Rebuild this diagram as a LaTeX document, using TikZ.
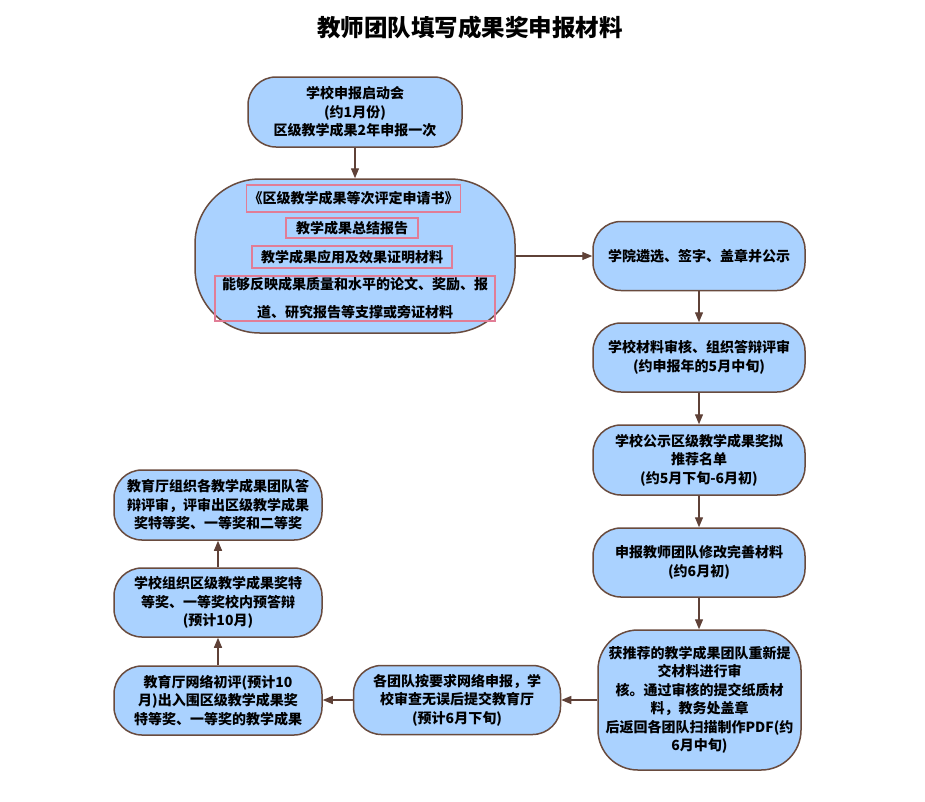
\documentclass[tikz,border=0pt]{standalone}
\usepackage{fontspec}
\setmainfont{Noto Sans CJK SC}
\usetikzlibrary{arrows.meta}
\definecolor{boxfill}{RGB}{170,210,255}
\definecolor{boxline}{RGB}{105,75,62}
\definecolor{arrowc}{RGB}{95,65,55}
\definecolor{pinkline}{RGB}{225,125,150}
\begin{document}
\begin{tikzpicture}[x=1pt,y=-1pt,
  flowbox/.style={draw=boxline, line width=1.5pt, fill=boxfill, rounded corners=28pt,
    minimum width=212pt, minimum height=70pt, align=center, inner sep=0pt,
    font=\fontsize{14}{18.5}\selectfont\bfseries},
  pinkbox/.style={draw=pinkline, line width=1.2pt, inner sep=0pt, align=center,
    font=\fontsize{14}{28}\selectfont\bfseries},
  conn/.style={draw=arrowc, line width=1.3pt, -{Triangle[length=10pt,width=8pt]}},
  titlestyle/.style={font=\fontsize{23.5}{26}\selectfont\bfseries, inner sep=0pt}
]
\fill[white] (0,0) rectangle (925,801);
\useasboundingbox (0,0) rectangle (925,801);

\node[titlestyle] (title) at (470,28) {教师团队填写成果奖申报材料};

\node[flowbox, minimum width=214pt, minimum height=70pt] (n1) at (355,112)
  {学校申报启动会\\(约1月份)\\区级教学成果2年申报一次};

\node[flowbox, minimum width=320pt, minimum height=154pt, rounded corners=65pt] (n2) at (355,256) {};
\node[pinkbox, minimum width=214pt, minimum height=27pt] (p1) at (353.5,198.5) {《区级教学成果等次评定申请书》};
\node[pinkbox, minimum width=132pt, minimum height=20pt] (p2) at (352,228) {教学成果总结报告};
\node[pinkbox, minimum width=200pt, minimum height=22pt] (p3) at (352,257) {教学成果应用及效果证明材料};
\node[pinkbox, minimum width=280pt, minimum height=45pt] (p4) at (355,298.5)
  {能够反映成果质量和水平的论文、奖励、报\\道、研究报告等支撑或旁证材料};

\node[flowbox, minimum height=69pt] (n3) at (699,256) {学院遴选、签字、盖章并公示};
\node[flowbox, minimum height=69pt] (n4) at (699,357.5) {学校材料审核、组织答辩评审\\(约申报年的5月中旬)};
\node[flowbox, minimum height=70pt] (n5) at (699,460) {学校公示区级教学成果奖拟\\推荐名单\\(约5月下旬-6月初)};
\node[flowbox, minimum height=69pt] (n6) at (699,562.5) {申报教师团队修改完善材料\\(约6月初)};
\node[flowbox, minimum width=203pt, minimum height=140pt, rounded corners=40pt] (n7) at (699.5,700)
  {获推荐的教学成果团队重新提\\交材料进行审\\核。通过审核的提交纸质材\\料，教务处盖章\\后返回各团队扫描制作PDF(约\\6月中旬)};
\node[flowbox, minimum width=207pt, minimum height=69pt] (n8) at (457,700)
  {各团队按要求网络申报，学\\校审查无误后提交教育厅\\(预计6月下旬)};
\node[flowbox, minimum width=208pt, minimum height=69pt] (n9) at (218,700.5)
  {教育厅网络初评(预计10\\月)出入围区级教学成果奖\\特等奖、一等奖的教学成果};
\node[flowbox, minimum width=208pt, minimum height=69pt] (n10) at (218,602.5)
  {学校组织区级教学成果奖特\\等奖、一等奖校内预答辩\\(预计10月)};
\node[flowbox, minimum width=208pt, minimum height=70pt] (n11) at (218,505)
  {教育厅组织各教学成果团队答\\辩评审，评审出区级教学成果\\奖特等奖、一等奖和二等奖};

\draw[conn] (n1) -- (n2);
\draw[conn] (n2.east) -- (n2.east -| n3.west);
\draw[conn] (n3) -- (n4);
\draw[conn] (n4) -- (n5);
\draw[conn] (n5) -- (n6);
\draw[conn] (n6.south) -- (n6.south |- n7.north);
\draw[conn] (n7.west) -- (n8.east |- n7.west);
\draw[conn] (n8.west) -- (n9.east |- n8.west);
\draw[conn] (n9) -- (n10);
\draw[conn] (n10) -- (n11);
\end{tikzpicture}
\end{document}
